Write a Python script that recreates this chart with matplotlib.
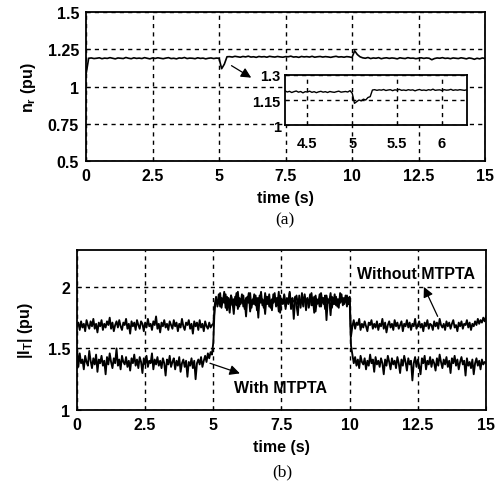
import numpy as np
import matplotlib
matplotlib.use("Agg")
import matplotlib.pyplot as plt

plt.rcParams['font.family'] = ['Liberation Sans', 'DejaVu Sans']
plt.rcParams['mathtext.fontset'] = 'custom'
plt.rcParams['mathtext.rm'] = 'Liberation Sans:bold'
plt.rcParams['mathtext.bf'] = 'Liberation Sans:bold'
plt.rcParams['mathtext.it'] = 'Liberation Sans:bold'

# ---------------- data ----------------
time_top = np.linspace(0, 15, 151)
speed_nr = [
    1.08, 1.19, 1.192, 1.188, 1.19, 1.193, 1.187, 1.191, 1.189, 1.194,
    1.19, 1.186, 1.192, 1.19, 1.188, 1.195, 1.19, 1.187, 1.193, 1.189,
    1.191, 1.188, 1.194, 1.19, 1.186, 1.192, 1.189, 1.193, 1.19, 1.187,
    1.191, 1.194, 1.188, 1.19, 1.186, 1.192, 1.19, 1.195, 1.188, 1.191,
    1.19, 1.187, 1.193, 1.189, 1.191, 1.186, 1.19, 1.192, 1.188, 1.191,
    1.19, 1.12, 1.15, 1.20,
    1.201, 1.198, 1.203, 1.2, 1.197, 1.202, 1.199, 1.204, 1.198, 1.2,
    1.196, 1.202, 1.199, 1.201, 1.197, 1.203, 1.2, 1.198, 1.202, 1.199,
    1.197, 1.201, 1.2, 1.204, 1.198, 1.2, 1.196, 1.202, 1.199, 1.201,
    1.198, 1.203, 1.197, 1.2, 1.202, 1.198, 1.201, 1.199, 1.196, 1.2,
    1.203, 1.198, 1.2, 1.197, 1.201, 1.199,
    1.195, 1.24, 1.215, 1.20,
    1.193, 1.19, 1.195, 1.188, 1.192, 1.19, 1.194, 1.187, 1.191, 1.193,
    1.189, 1.192, 1.19, 1.186, 1.193, 1.19, 1.188, 1.194, 1.19, 1.191,
    1.187, 1.19, 1.193, 1.189, 1.192, 1.19, 1.18, 1.188, 1.192, 1.19,
    1.194, 1.189, 1.191, 1.187, 1.192, 1.19, 1.188, 1.193, 1.19, 1.186,
    1.192, 1.189, 1.183, 1.19, 1.186, 1.192, 1.188,
]

time_inset = np.linspace(4.25, 6.275, 82)
speed_inset = [
    1.205, 1.198, 1.202, 1.195, 1.2, 1.204, 1.197, 1.201, 1.193, 1.2,
    1.198, 1.203, 1.196, 1.2, 1.194, 1.199, 1.202, 1.197, 1.2, 1.195,
    1.201, 1.198, 1.196, 1.2, 1.203, 1.197, 1.199, 1.201, 1.198, 1.206,
    1.19, 1.13, 1.14, 1.15, 1.145, 1.155, 1.15, 1.165, 1.17, 1.21,
    1.212, 1.208, 1.211, 1.209, 1.213, 1.207, 1.21, 1.212, 1.206, 1.211,
    1.209, 1.214, 1.208, 1.21, 1.207, 1.212, 1.209, 1.211, 1.205, 1.21,
    1.213, 1.208, 1.21, 1.207, 1.212, 1.209, 1.215, 1.208, 1.21, 1.211,
    1.207, 1.212, 1.209, 1.21, 1.214, 1.208, 1.211, 1.209, 1.212, 1.21,
    1.208, 1.211,
]

time_bot = np.linspace(0, 15, 301)
current_without = [
    1.68, 1.71, 1.65, 1.72, 1.67, 1.70, 1.64, 1.73, 1.69, 1.66,
    1.72, 1.68, 1.74, 1.66, 1.70, 1.63, 1.71, 1.68, 1.73, 1.65,
    1.70, 1.67, 1.72, 1.69, 1.75, 1.66, 1.71, 1.64, 1.69, 1.72,
    1.67, 1.73, 1.68, 1.65, 1.71, 1.69, 1.74, 1.66, 1.70, 1.62,
    1.72, 1.68, 1.71, 1.65, 1.73, 1.69, 1.66, 1.72, 1.70, 1.64,
    1.71, 1.67, 1.74, 1.68, 1.70, 1.65, 1.72, 1.69, 1.76, 1.66,
    1.70, 1.63, 1.71, 1.68, 1.73, 1.67, 1.70, 1.65, 1.72, 1.69,
    1.66, 1.73, 1.68, 1.71, 1.64, 1.70, 1.67, 1.74, 1.68, 1.65,
    1.71, 1.69, 1.73, 1.66, 1.70, 1.62, 1.72, 1.68, 1.71, 1.65,
    1.73, 1.67, 1.70, 1.64, 1.72, 1.68, 1.66, 1.71, 1.67, 1.69,
    1.70,
    1.82, 1.90, 1.86, 1.94, 1.84, 1.91, 1.88, 1.96, 1.83, 1.92,
    1.87, 1.79, 1.93, 1.85, 1.90, 1.88, 1.95, 1.82, 1.91, 1.86,
    1.94, 1.84, 1.89, 1.76, 1.92, 1.87, 1.95, 1.83, 1.90, 1.86,
    1.93, 1.81, 1.91, 1.88, 1.96, 1.85, 1.89, 1.78, 1.92, 1.86,
    1.94, 1.83, 1.90, 1.87, 1.95, 1.84, 1.91, 1.80, 1.93, 1.88,
    1.86, 1.94, 1.82, 1.90, 1.87, 1.96, 1.85, 1.91, 1.74, 1.89,
    1.93, 1.86, 1.90, 1.83, 1.95, 1.88, 1.92, 1.81, 1.90, 1.87,
    1.94, 1.85, 1.91, 1.79, 1.93, 1.86, 1.89, 1.84, 1.95, 1.88,
    1.91, 1.82, 1.93, 1.87, 1.90, 1.77, 1.92, 1.86, 1.94, 1.85,
    1.90, 1.83, 1.95, 1.88, 1.91, 1.86, 1.93, 1.84, 1.90, 1.92,
    1.60,
    1.68, 1.73, 1.66, 1.71, 1.69, 1.74, 1.65, 1.70, 1.67, 1.72,
    1.68, 1.64, 1.71, 1.69, 1.73, 1.66, 1.70, 1.67, 1.72, 1.65,
    1.70, 1.68, 1.74, 1.66, 1.71, 1.63, 1.69, 1.72, 1.67, 1.70,
    1.65, 1.73, 1.68, 1.71, 1.66, 1.69, 1.72, 1.64, 1.70, 1.68,
    1.73, 1.67, 1.71, 1.65, 1.70, 1.68, 1.74, 1.66, 1.69, 1.72,
    1.67, 1.70, 1.64, 1.71, 1.68, 1.73, 1.66, 1.70, 1.69, 1.65,
    1.72, 1.68, 1.71, 1.66, 1.74, 1.69, 1.67, 1.70, 1.65, 1.72,
    1.68, 1.71, 1.66, 1.70, 1.73, 1.67, 1.69, 1.64, 1.71, 1.68,
    1.72, 1.66, 1.70, 1.69, 1.73, 1.67, 1.71, 1.65, 1.70, 1.68,
    1.72, 1.69, 1.74, 1.70, 1.73, 1.71, 1.75, 1.72, 1.76,
]
current_with = [
    1.50, 1.35, 1.46, 1.38, 1.41, 1.33, 1.44, 1.39, 1.36, 1.48,
    1.40, 1.34, 1.42, 1.37, 1.45, 1.31, 1.41, 1.38, 1.44, 1.36,
    1.40, 1.29, 1.43, 1.37, 1.46, 1.39, 1.34, 1.42, 1.38, 1.50,
    1.36, 1.41, 1.33, 1.44, 1.39, 1.37, 1.43, 1.35, 1.40, 1.32,
    1.42, 1.38, 1.45, 1.36, 1.41, 1.34, 1.43, 1.39, 1.30, 1.42,
    1.37, 1.44, 1.35, 1.40, 1.38, 1.46, 1.33, 1.41, 1.37, 1.43,
    1.36, 1.40, 1.34, 1.42, 1.38, 1.28, 1.41, 1.37, 1.44, 1.35,
    1.39, 1.42, 1.33, 1.40, 1.36, 1.43, 1.31, 1.38, 1.41, 1.35,
    1.40, 1.27, 1.39, 1.36, 1.42, 1.34, 1.40, 1.25, 1.38, 1.41,
    1.37, 1.43, 1.35, 1.40, 1.44, 1.39, 1.46, 1.42, 1.47, 1.45,
    1.55,
    1.85, 1.92, 1.84, 1.89, 1.95, 1.83, 1.90, 1.87, 1.94, 1.81,
    1.91, 1.86, 1.93, 1.88, 1.78, 1.92, 1.85, 1.96, 1.84, 1.90,
    1.87, 1.93, 1.82, 1.91, 1.88, 1.95, 1.80, 1.89, 1.86, 1.94,
    1.85, 1.91, 1.75, 1.93, 1.87, 1.90, 1.83, 1.95, 1.86, 1.92,
    1.84, 1.89, 1.81, 1.94, 1.88, 1.91, 1.85, 1.96, 1.79, 1.90,
    1.87, 1.93, 1.84, 1.91, 1.86, 1.95, 1.82, 1.89, 1.88, 1.92,
    1.85, 1.77, 1.93, 1.87, 1.90, 1.84, 1.94, 1.86, 1.91, 1.83,
    1.89, 1.95, 1.85, 1.92, 1.80, 1.90, 1.87, 1.94, 1.84, 1.91,
    1.86, 1.93, 1.73, 1.90, 1.88, 1.95, 1.83, 1.91, 1.86, 1.92,
    1.84, 1.90, 1.87, 1.94, 1.85, 1.91, 1.88, 1.93, 1.86, 1.89,
    1.52,
    1.45, 1.38, 1.43, 1.36, 1.41, 1.34, 1.44, 1.39, 1.37, 1.42,
    1.33, 1.40, 1.36, 1.45, 1.38, 1.41, 1.31, 1.43, 1.37, 1.40,
    1.35, 1.42, 1.38, 1.29, 1.41, 1.36, 1.44, 1.39, 1.33, 1.42,
    1.37, 1.40, 1.34, 1.43, 1.38, 1.30, 1.41, 1.36, 1.44, 1.39,
    1.32, 1.42, 1.37, 1.40, 1.24, 1.38, 1.43, 1.35, 1.41, 1.36,
    1.29, 1.42, 1.38, 1.44, 1.33, 1.40, 1.37, 1.43, 1.35, 1.41,
    1.38, 1.32, 1.42, 1.36, 1.45, 1.39, 1.34, 1.41, 1.37, 1.43,
    1.35, 1.40, 1.30, 1.42, 1.38, 1.44, 1.36, 1.41, 1.33, 1.39,
    1.43, 1.37, 1.40, 1.28, 1.42, 1.36, 1.39, 1.34, 1.41, 1.29,
    1.38, 1.42, 1.36, 1.40, 1.33, 1.41, 1.37, 1.39, 1.38,
]

x_ticks = [0, 2.5, 5, 7.5, 10, 12.5, 15]
x_ticklabels = ["0", "2.5", "5", "7.5", "10", "12.5", "15"]
top_yticks = [0.5, 0.75, 1, 1.25, 1.5]
top_yticklabels = ["0.5", "0.75", "1", "1.25", "1.5"]
inset_xticks = [4.5, 5, 5.5, 6]
inset_xticklabels = ["4.5", "5", "5.5", "6"]
inset_yticks = [1, 1.15, 1.3]
inset_yticklabels = ["1", "1.15", "1.3"]
bot_yticks = [1, 1.5, 2]
bot_yticklabels = ["1", "1.5", "2"]

# ---------------- figure ----------------
fig = plt.figure(figsize=(4.98, 4.85), dpi=100)
fs = 11.5

def style(ax, fsz=fs, pad=5):
    for s in ax.spines.values():
        s.set_linewidth(1.3)
        s.set_color('k')
    ax.tick_params(direction='in', length=3, width=0.8, labelsize=fsz, pad=pad)
    for lab in ax.get_xticklabels() + ax.get_yticklabels():
        lab.set_fontweight('bold')
    ax.grid(True, color='k', linestyle=(0, (3, 3)), linewidth=1.0)

# top axes
ax1 = fig.add_axes([0.1727, 0.666, 0.8012, 0.307])
ax1.plot(time_top, speed_nr, color='k', lw=1.2)
ax1.set_xlim(0, 15)
ax1.set_ylim(0.5, 1.5)
ax1.set_xticks(x_ticks)
ax1.set_xticklabels(x_ticklabels)
ax1.set_yticks(top_yticks)
ax1.set_yticklabels(top_yticklabels)
style(ax1)
ax1.set_xlabel('time (s)', fontsize=fs, fontweight='bold', labelpad=5)
ax1.set_ylabel(r'n$_{\mathbf{r}}$ (pu)', fontsize=fs, fontweight='bold', labelpad=7)
ax1.annotate('', xy=(6.3, 1.05), xytext=(5.38, 1.15),
             arrowprops=dict(arrowstyle='-|>', color='k', lw=0.9, mutation_scale=15))
fig.text(0.572, 0.545, '(a)', fontsize=12.5, family='Liberation Serif', ha='center', va='center')

# inset
axi = fig.add_axes([0.5723, 0.7402, 0.3655, 0.1031])
axi.set_facecolor('white')
axi.plot(time_inset, speed_inset, color='k', lw=1.0)
axi.set_xlim(4.25, 6.28)
axi.set_ylim(1, 1.3)
axi.set_xticks(inset_xticks)
axi.set_xticklabels(inset_xticklabels)
axi.set_yticks(inset_yticks)
axi.set_yticklabels(inset_yticklabels)
style(axi, fsz=10.5, pad=3)
axi.tick_params(axis='x', pad=8)

# bottom axes
ax2 = fig.add_axes([0.1546, 0.1526, 0.8213, 0.330])
ax2.plot(time_bot, current_without, color='k', lw=1.35)
ax2.plot(time_bot, current_with, color='k', lw=1.35)
ax2.set_xlim(0, 15)
ax2.set_ylim(1, 2.3)
ax2.set_xticks(x_ticks)
ax2.set_xticklabels(x_ticklabels)
ax2.set_yticks(bot_yticks)
ax2.set_yticklabels(bot_yticklabels)
style(ax2)
ax2.set_xlabel('time (s)', fontsize=fs, fontweight='bold', labelpad=5)
ax2.set_ylabel(r'|I$_{\mathbf{T}}$| (pu)', fontsize=fs, fontweight='bold', labelpad=9)
ax2.text(12.43, 2.11, 'Without MTPTA', fontsize=fs, fontweight='bold', ha='center', va='center')
ax2.text(7.46, 1.18, 'With MTPTA', fontsize=fs, fontweight='bold', ha='center', va='center')
ax2.annotate('', xy=(12.68, 2.02), xytext=(13.27, 1.74),
             arrowprops=dict(arrowstyle='-|>', color='k', lw=0.9, mutation_scale=15))
ax2.annotate('', xy=(6.07, 1.29), xytext=(4.78, 1.387),
             arrowprops=dict(arrowstyle='-|>', color='k', lw=0.9, mutation_scale=15))
fig.text(0.566, 0.025, '(b)', fontsize=12.5, family='Liberation Serif', ha='center', va='center')

fig.savefig('out.png', dpi=100)
